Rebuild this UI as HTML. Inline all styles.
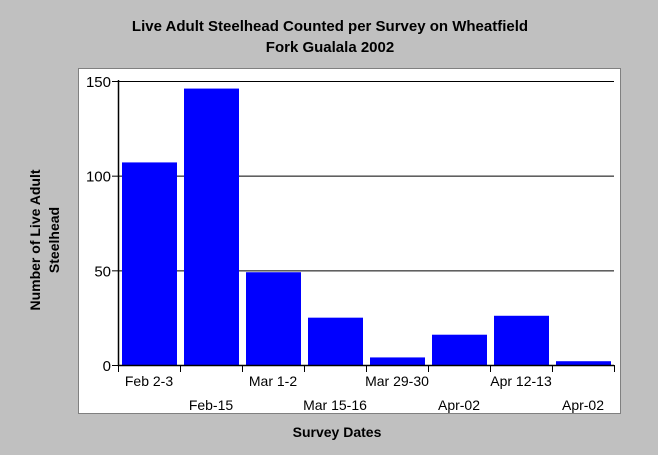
<!DOCTYPE html>
<html><head><meta charset="utf-8"><style>
body{margin:0;background:#c0c0c0;width:658px;height:455px;overflow:hidden;font-family:"Liberation Sans",Arial,sans-serif}
</style></head><body>
<svg width="658" height="455" style="position:absolute;left:0;top:0">
<text x="330" y="31" text-anchor="middle" font-size="15" font-weight="bold">Live Adult Steelhead Counted per Survey on Wheatfield</text>
<text x="330" y="52" text-anchor="middle" font-size="15" font-weight="bold">Fork Gualala 2002</text>
<rect x="78.5" y="68.5" width="542" height="345" fill="#fff" stroke="#808080"/>
<g id="grid"></g><g id="bars"></g><g id="axes"></g>
<text x="337" y="437" text-anchor="middle" font-size="14" font-weight="bold">Survey Dates</text>
<text transform="translate(40,240) rotate(-90)" text-anchor="middle" font-size="14" font-weight="bold"><tspan x="0" dy="0">Number of Live Adult</tspan><tspan x="0" dy="19">Steelhead</tspan></text>
</svg>
<script>
const categories=["Feb 2-3","Feb-15","Mar 1-2","Mar 15-16","Mar 29-30","Apr-02","Apr 12-13","Apr-02"];
const values=[107,146,49,25,4,16,26,2];
const yTicks=[0,50,100,150];
const x0=118,x1=614,y0=365,y1=81,yMax=150;
const ns="http://www.w3.org/2000/svg";
const step=(x1-x0)/categories.length;
const ys=v=>y0-(v/yMax)*(y0-y1);
function mk(t,a,p){const e=document.createElementNS(ns,t);for(const k in a)e.setAttribute(k,a[k]);document.getElementById(p).appendChild(e);return e;}
yTicks.forEach(v=>{
 if(v>0){const g=mk('line',{x1:x0,x2:x1,y1:ys(v)+.5,y2:ys(v)+.5,stroke:'#000'},'grid');
 
 }
 const tk=mk('line',{x1:x0-6,x2:x0,y1:ys(v)+.5,y2:ys(v)+.5,stroke:'#000'},'axes');
 
 
 const t=mk('text',{x:x0-7,y:ys(v)+6,'text-anchor':'end','font-size':15},'axes');t.textContent=v;
 
 
});
values.forEach((v,i)=>{
 const b=mk('rect',{x:x0+i*step+4,y:ys(v),width:step-7,height:y0-ys(v),fill:'#0000ff'},'bars');
 
 
});
for(let i=0;i<=categories.length;i++){
 const tk=mk('line',{x1:x0+i*step+.5,x2:x0+i*step+.5,y1:y0,y2:y0+7,stroke:'#000'},'axes');
 
 
}
categories.forEach((c,i)=>{
 const t=mk('text',{x:x0+(i+.5)*step,y:i%2?410:386,'text-anchor':'middle','font-size':14},'axes');t.textContent=c;
 
 
});
const ax=mk('path',{d:`M${x0+.5},${y1-1}V${y0+.5}H${x1}`,stroke:'#000',fill:'none','stroke-width':1.5},'axes');


</script>
</body></html>
